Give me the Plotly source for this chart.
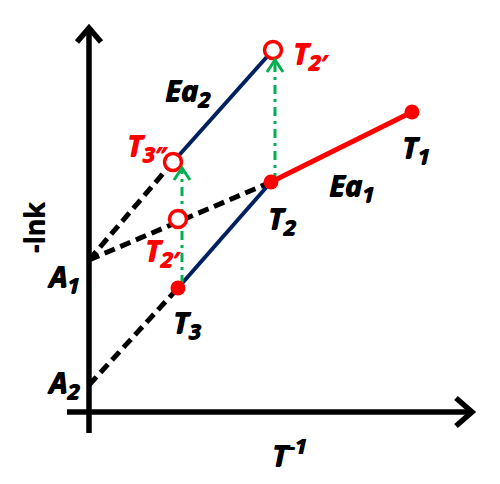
import plotly.graph_objects as go

# Schematic Arrhenius diagram (arbitrary units): x = T^-1, y = -ln k
# Intercepts on the -lnk axis
A_labels = ["A", "A"]
A_subs = ["1", "2"]
A_x = [0, 0]
A_y = [152, 27]

# Measured (filled) points T1, T2, T3
meas_subs = ["1", "2", "3"]
meas_x = [323, 182, 89]
meas_y = [300, 230, 124]

# Shifted (open) points: T2' (upper), T3'', T2' (on A1 line)
open_subs = ["2\u2032", "3\u2033", "2\u2032"]
open_x = [184, 84, 89]
open_y = [362, 250, 193]

# Green shift arrows (x, start y, tip y)
shift_x = [93, 186]
shift_y0 = [128, 230]
shift_y1 = [244, 352]

# Axis extents
axis_x_min, axis_x_max = -22, 383
axis_y_min, axis_y_max = -21, 384

RED = "#FF0000"
BLUE = "#002060"
GREEN = "#00B050"
BLACK = "#000000"

fig = go.Figure()

# Dashed extrapolations
dash_pairs = [((A_x[0], A_y[0]), (open_x[1], open_y[1])),
              ((A_x[0], A_y[0]), (meas_x[1], meas_y[1])),
              ((A_x[1], A_y[1]), (meas_x[2], meas_y[2]))]
for (x0, y0), (x1, y1) in dash_pairs:
    fig.add_trace(go.Scatter(x=[x0, x1], y=[y0, y1], mode="lines",
                             line=dict(color=BLACK, width=5, dash="11px,6px"),
                             hoverinfo="skip"))

# Blue Ea2 lines
fig.add_trace(go.Scatter(x=[meas_x[2], meas_x[1]], y=[meas_y[2], meas_y[1]], mode="lines",
                         line=dict(color=BLUE, width=4), hoverinfo="skip"))
fig.add_trace(go.Scatter(x=[open_x[1], open_x[0]], y=[open_y[1], open_y[0]], mode="lines",
                         line=dict(color=BLUE, width=4), hoverinfo="skip"))
# Red Ea1 line
fig.add_trace(go.Scatter(x=[meas_x[1], meas_x[0]], y=[meas_y[1], meas_y[0]], mode="lines",
                         line=dict(color=RED, width=5), hoverinfo="skip"))

# Green dash-dot arrows
for gx, gy0, gy1 in zip(shift_x, shift_y0, shift_y1):
    fig.add_trace(go.Scatter(x=[gx, gx], y=[gy0, gy1 - 3], mode="lines",
                             line=dict(color=GREEN, width=3, dash="9px,5px,3px,5px"),
                             hoverinfo="skip"))

# Markers
fig.add_trace(go.Scatter(x=meas_x, y=meas_y, mode="markers",
                         marker=dict(color=RED, size=15, line=dict(width=0)),
                         hoverinfo="skip"))
fig.add_trace(go.Scatter(x=open_x, y=open_y, mode="markers",
                         marker=dict(color="white", size=17, line=dict(color=RED, width=3.5)),
                         hoverinfo="skip"))

shapes = []
# axes
shapes.append(dict(type="line", x0=axis_x_min, y0=0, x1=axis_x_max, y1=0,
                   line=dict(color=BLACK, width=5.5)))
shapes.append(dict(type="line", x0=0, y0=axis_y_min, x1=0, y1=axis_y_max,
                   line=dict(color=BLACK, width=5.5)))
# axis chevrons
shapes.append(dict(type="path",
                   path=f"M {axis_x_max-16},14 L {axis_x_max},0 L {axis_x_max-16},-14",
                   line=dict(color=BLACK, width=5.5)))
shapes.append(dict(type="path",
                   path=f"M -12,{axis_y_max-14} L 0,{axis_y_max} L 12,{axis_y_max-14}",
                   line=dict(color=BLACK, width=5.5)))
# green chevrons
for gx, gy1 in zip(shift_x, shift_y1):
    shapes.append(dict(type="path",
                       path=f"M {gx-8},{gy1-12} L {gx},{gy1} L {gx+8},{gy1-12}",
                       line=dict(color=GREEN, width=3)))

FONT = dict(family="Noto Sans", size=29, weight="bold", style="italic")


def sub(main, s):
    return f"{main}<sub><span style='font-size:22px'>{s}</span></sub>"


def lab(text, x, y, xs, ys, color=BLACK, xanchor="left", yanchor="top", size=29):
    f = dict(FONT); f["color"] = color; f["size"] = size
    f["shadow"] = f"1px 0px 0px {color}, 0px 0.5px 0px {color}"
    return dict(text=text, x=x, y=y, xref="x", yref="y", xshift=xs, yshift=ys,
                xanchor=xanchor, yanchor=yanchor, showarrow=False, font=f)


annotations = [
    lab(sub("T", meas_subs[0]), meas_x[0], meas_y[0], -12, -13),
    lab(sub("T", meas_subs[1]), meas_x[1], meas_y[1], -5, -14),
    lab(sub("T", meas_subs[2]), meas_x[2], meas_y[2], -7, -12),
    lab(sub("T", open_subs[0]), open_x[0], open_y[0], 18, 19, color=RED),
    lab(sub("T", open_subs[1]), open_x[1], open_y[1], -3, 39, color=RED, xanchor="right"),
    lab(sub("T", open_subs[2]), open_x[2], open_y[2], -35, -9, color=RED),
    lab(sub("Ea", "1"), 238, 249, 0, 0),
    lab(sub("Ea", "2"), 74, 344, 0, 0),
    lab(sub(A_labels[0], A_subs[0]), A_x[0], A_y[0], -44, 6),
    lab(sub(A_labels[1], A_subs[1]), A_x[1], A_y[1], -44, 25),
    lab("T<sup><span style='font-size:22px'>-1</span></sup>", 181, -63.5, 0, 0, yanchor="bottom"),
]
annotations.append(dict(text="-lnk", x=-56, y=184, xref="x", yref="y", showarrow=False,
                        textangle=-90, xanchor="center", yanchor="middle",
                        font=dict(family="Noto Sans", size=27, weight="bold", color=BLACK,
                                  shadow="0px 1px 0px #000")))

fig.update_layout(
    width=500, height=484,
    margin=dict(l=0, r=0, t=0, b=0),
    paper_bgcolor="white", plot_bgcolor="white",
    showlegend=False,
    xaxis=dict(range=[-89, 411], visible=False, fixedrange=True),
    yaxis=dict(range=[-72, 412], visible=False, fixedrange=True),
    shapes=shapes,
    annotations=annotations,
)

fig.write_html("out.html", config={"displayModeBar": False},
               post_script="document.body.style.margin='0';")
